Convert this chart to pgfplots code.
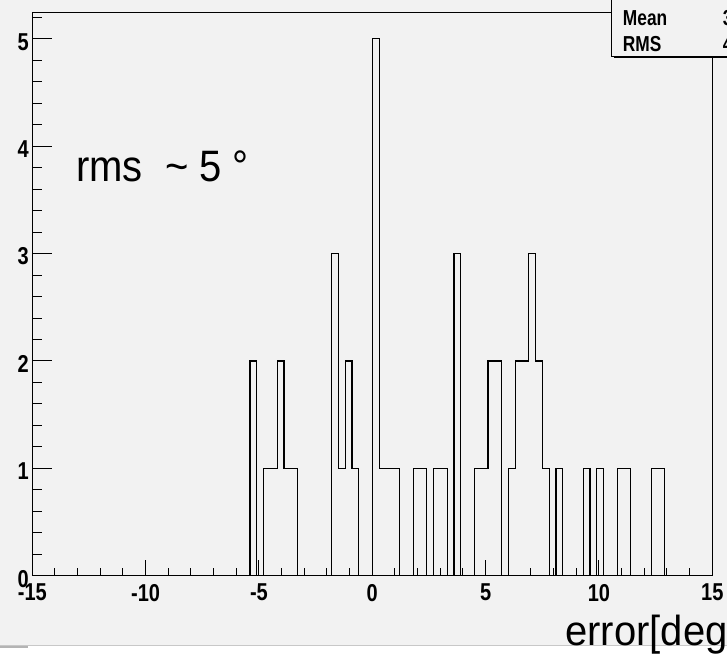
\documentclass[border=0pt]{standalone}
\usepackage{pgfplots}
\pgfplotsset{compat=1.18}
\usepackage{graphicx}
\usepackage{fontspec}
\setmainfont{Liberation Sans}
\definecolor{bg}{HTML}{F2F2F2}
\definecolor{stripline}{HTML}{C8C8C8}
\newcommand{\tl}[1]{\scalebox{1}[1.22]{#1}}
\newcommand{\statstext}[1]{\scalebox{1}[1.25]{#1}}
\begin{document}
\begin{tikzpicture}
\path[use as bounding box] (-24.225pt,-58.725pt) rectangle (521.025pt,431.775pt);
\fill[bg] (-24.225pt,-58.725pt) rectangle (521.025pt,431.775pt);
\begin{axis}[
  at={(0,0)}, anchor=south west, scale only axis,
  width=510pt, height=422.775pt,
  xmin=-15, xmax=15, ymin=0, ymax=5.25,
  axis line style={black, line width=0.75pt},
  tick align=inside, xtick pos=bottom, ytick pos=left,
  xtick={-15,-10,-5,0,5,10,15},
  xticklabels={\tl{-15},\tl{-10},\tl{-5},\tl{0},\tl{5},\tl{10},\tl{15}},
  ytick={0,1,2,3,4,5},
  yticklabels={\tl{0},\tl{1},\tl{2},\tl{3},\tl{4},\tl{5}},
  minor xtick={-14,-13,...,14},
  minor ytick={0.2,0.4,...,5.2},
  xtick style={black, line width=0.75pt, /pgfplots/major tick length=12pt, /pgfplots/minor tick length=6pt},
  ytick style={black, line width=0.75pt, /pgfplots/major tick length=15pt, /pgfplots/minor tick length=7.5pt},
  ticklabel style={font=\fontsize{15}{17}\selectfont\bfseries},
  xticklabel style={yshift=-2.7pt},
  yticklabel style={xshift=0.8pt, yshift=-2.2pt},
]
\addplot[const plot, black, line width=0.9pt, mark=none] coordinates {
(-15,0) (-5.4,2) (-5.1,0) (-4.8,1) (-4.5,1) (-4.2,2) (-3.9,1) (-3.6,1) (-3.3,0)
(-1.8,3) (-1.5,1) (-1.2,2) (-0.9,1) (-0.6,0)
(0.0,5) (0.3,1) (0.6,1) (0.9,1) (1.2,0)
(1.8,1) (2.1,1) (2.4,0) (2.7,1) (3.0,1) (3.3,0)
(3.6,3) (3.9,0)
(4.5,1) (4.8,1) (5.1,2) (5.4,2) (5.7,0)
(6.0,1) (6.3,2) (6.6,2) (6.9,3) (7.2,2) (7.5,1) (7.8,0)
(8.1,1) (8.4,0) (9.3,1) (9.6,0) (9.9,1) (10.2,0)
(10.8,1) (11.1,1) (11.4,0) (12.3,1) (12.6,1) (12.9,0) (15,0)
};
\end{axis}
\begin{scope}[shift={(-24.225pt,431.775pt)}, x=0.75pt, y=-0.75pt]
  % stats box
  \fill[black] (613.7,-5) rectangle (740,58.2);
  \filldraw[fill=bg, draw=black, line width=0.75pt] (611.7,-5) rectangle (740,56.5);
  \node[anchor=base west, inner sep=0, font=\fontsize{13}{15}\selectfont\bfseries] at (622.7,26) {\statstext{Mean}};
  \node[anchor=base west, inner sep=0, font=\fontsize{13}{15}\selectfont\bfseries] at (622.7,51.7) {\statstext{RMS}};
  \node[anchor=base west, inner sep=0, font=\fontsize{13}{15}\selectfont\bfseries] at (722.7,26) {\statstext{3.017}};
  \node[anchor=base west, inner sep=0, font=\fontsize{13}{15}\selectfont\bfseries] at (722.7,51.7) {\statstext{4.906}};
  % rms text
  \node[anchor=base west, inner sep=0, font=\fontsize{30}{34}\selectfont] at (76,181.7) {\scalebox{1}[1.1]{rms\ \ \textasciitilde\ 5 °}};
  % bottom strip
  \fill[white] (0,646) rectangle (727,660);
  \draw[stripline, line width=0.75pt] (0,645.8) -- (727,645.8);
  \fill[stripline!90!black] (0,646) rectangle (28,648);
  % x label
  \node[anchor=base west, inner sep=0, font=\fontsize{30}{34}\selectfont] at (565,645) {\scalebox{1}[1.05]{error[deg]}};
\end{scope}
\end{tikzpicture}
\end{document}
